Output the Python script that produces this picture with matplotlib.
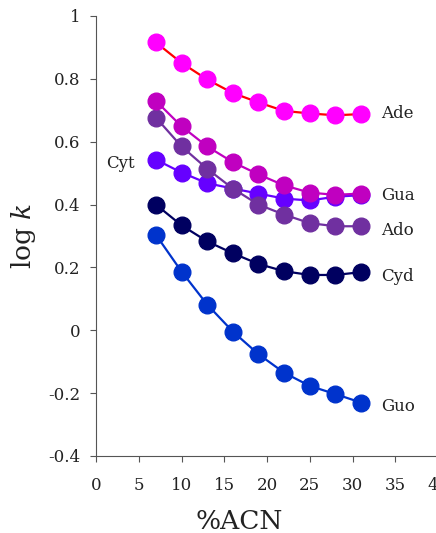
import matplotlib
matplotlib.use("Agg")
import matplotlib.pyplot as plt

plt.rcParams['font.family'] = ['DejaVu Serif']
plt.rcParams['mathtext.fontset'] = 'dejavuserif'

acn = [7, 10, 13, 16, 19, 22, 25, 28, 31]

guo = [0.304, 0.187, 0.082, -0.004, -0.076, -0.135, -0.177, -0.203, -0.230]
cyd = [0.400, 0.334, 0.283, 0.245, 0.211, 0.188, 0.176, 0.176, 0.185]
cyt = [0.543, 0.502, 0.468, 0.451, 0.435, 0.419, 0.413, 0.425, 0.430]
ado = [0.677, 0.585, 0.514, 0.451, 0.400, 0.368, 0.341, 0.331, 0.331]
gua = [0.730, 0.649, 0.585, 0.535, 0.496, 0.461, 0.438, 0.431, 0.435]
ade = [0.916, 0.851, 0.798, 0.755, 0.725, 0.698, 0.690, 0.684, 0.688]

names = ["Guo", "Cyd", "Cyt", "Ado", "Gua", "Ade"]
series = [guo, cyd, cyt, ado, gua, ade]
line_colors = ["#0033CC", "#000060", "#6600FF", "#7030A0", "#C000C0", "#FF0000"]
marker_colors = ["#0033CC", "#000060", "#6600FF", "#7030A0", "#C000C0", "#FF00FF"]

# label anchor (x, y) in data units
label_pos = {"Guo": (33.3, -0.242), "Cyd": (33.3, 0.17), "Cyt": (1.2, 0.53),
             "Ado": (33.3, 0.319), "Gua": (33.3, 0.429), "Ade": (33.3, 0.69)}

fig = plt.figure(figsize=(4.36, 5.33), dpi=100)
ax = fig.add_axes([96/436, 77/533, 342/436, 440/533])

for name, vals, lc, mc in zip(names, series, line_colors, marker_colors):
    ax.plot(acn, vals, color=lc, lw=1.6, marker='o', ms=12,
            markerfacecolor=mc, markeredgecolor=mc)
    lx, ly = label_pos[name]
    ax.text(lx, ly, name, fontsize=12, va='center', ha='left', color='#222222')

ax.set_xlim(0, 40)
ax.set_ylim(-0.4, 1)
ax.set_xticks(range(0, 45, 5))
ax.set_yticks([-0.4, -0.2, 0, 0.2, 0.4, 0.6, 0.8, 1])
ax.set_yticklabels(["-0.4", "-0.2", "0", "0.2", "0.4", "0.6", "0.8", "1"])
ax.tick_params(labelsize=12, direction='out', length=4, color='#555555', labelcolor='#222222')
ax.tick_params(axis='x', pad=11)
ax.tick_params(axis='y', pad=7)

for s in ['top', 'right']:
    ax.spines[s].set_visible(False)
for s in ['left', 'bottom']:
    ax.spines[s].set_color('#555555')

ax.set_xlabel("%ACN", fontsize=19, color='#222222')
ax.xaxis.set_label_coords(0.42, -0.12)
ax.set_ylabel(r"log $k$", fontsize=19, color='#222222')
ax.yaxis.set_label_coords(-0.17, 0.5)

fig.savefig("out.png", dpi=100)
